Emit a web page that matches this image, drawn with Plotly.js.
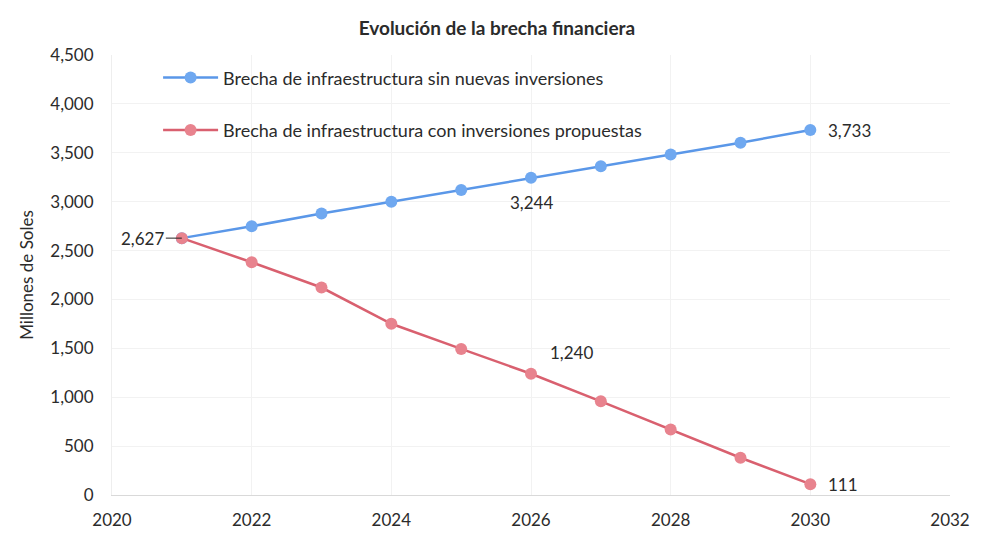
<!DOCTYPE html>
<html>
<head>
<meta charset="utf-8">
<script src="https://cdn.plot.ly/plotly-3.0.1.min.js"></script>
<style>html,body{margin:0;padding:0;background:#fff;}#chart{width:984px;height:551px;}</style>
</head>
<body>
<div id="chart"></div>
<script>
const years = [2021, 2022, 2023, 2024, 2025, 2026, 2027, 2028, 2029, 2030];
const sinInversiones = [2627, 2748, 2879, 2999, 3120, 3244, 3362, 3482, 3603, 3733];
const conInversiones = [2627, 2380, 2122, 1751, 1494, 1240, 958, 669, 381, 111];
const seriesNames = ["Brecha de infraestructura sin nuevas inversiones", "Brecha de infraestructura con inversiones propuestas"];
const xTicks = [2020, 2022, 2024, 2026, 2028, 2030, 2032];
const yTicks = [0, 500, 1000, 1500, 2000, 2500, 3000, 3500, 4000, 4500];

const fmt = v => v.toLocaleString('en-US');
const font = "Lato, 'Open Sans', sans-serif";

const traces = [
  {x: years, y: sinInversiones, name: seriesNames[0], type: 'scatter', mode: 'lines+markers',
   legendgroup: 'a',
   line: {color: '#5a97e8', width: 2.5}, marker: {color: '#6fa8f0', size: 12}},
  {x: years, y: conInversiones, name: seriesNames[1], type: 'scatter', mode: 'lines+markers',
   legendgroup: 'b',
   line: {color: '#d9606f', width: 2.5}, marker: {color: '#e8838e', size: 12}}
];

const annotations = [
  {x: years[0], y: sinInversiones[0], text: fmt(sinInversiones[0]), showarrow: true, arrowhead: 0,
   arrowwidth: 1, arrowcolor: '#222', ax: -16, ay: 0, standoff: 0, xanchor: 'right'},
  {x: years[5], y: sinInversiones[5], text: fmt(sinInversiones[5]), showarrow: false, yshift: -25},
  {x: years[9], y: sinInversiones[9], text: fmt(sinInversiones[9]), showarrow: false, xanchor: 'left', xshift: 16},
  {x: years[5], y: conInversiones[5], text: fmt(conInversiones[5]), showarrow: false, xshift: 40, yshift: 21},
  {x: years[9], y: conInversiones[9], text: fmt(conInversiones[9]), showarrow: false, xanchor: 'left', xshift: 16}
].map(a => Object.assign({font: {family: font, size: 17, color: '#2b2b2b'}}, a));

const layout = {
  width: 984, height: 551,
  margin: {l: 112, r: 34, t: 55, b: 56},
  paper_bgcolor: '#fff', plot_bgcolor: '#fff',
  font: {family: font, size: 17, color: '#2b2b2b'},
  title: {text: '<b>Evolución de la brecha financiera</b>', x: 0.505, xanchor: 'center', y: 0.96,
          font: {family: font, size: 19, color: '#2b2b2b'}},
  xaxis: {range: [2020, 2032], tickvals: xTicks, ticktext: xTicks.map(String), showgrid: true,
          gridcolor: '#f2f2f2', zeroline: false, showline: true, linecolor: '#d9d9d9', linewidth: 1,
          ticks: '', tickfont: {family: font, size: 17, color: '#2b2b2b'}, ticklabelstandoff: 10},
  yaxis: {range: [0, 4500], tickvals: yTicks, ticktext: yTicks.map(fmt), showgrid: true,
          gridcolor: '#f2f2f2', zeroline: false, showline: true, linecolor: '#eeeeee',
          ticks: '', tickfont: {family: font, size: 17, color: '#2b2b2b'}, ticklabelstandoff: 14,
          title: {text: 'Millones de Soles', font: {family: font, size: 17, color: '#2b2b2b'}, standoff: 12}},
  showlegend: true,
  legend: {x: 0.055, y: 0.99, xanchor: 'left', yanchor: 'top', bgcolor: 'rgba(0,0,0,0)',
           traceorder: 'grouped', tracegroupgap: 26, itemwidth: 55,
           font: {family: font, size: 18, color: '#2b2b2b'}},
  annotations: annotations
};

Plotly.newPlot('chart', traces, layout, {displayModeBar: false, staticPlot: true});
</script>
</body>
</html>
